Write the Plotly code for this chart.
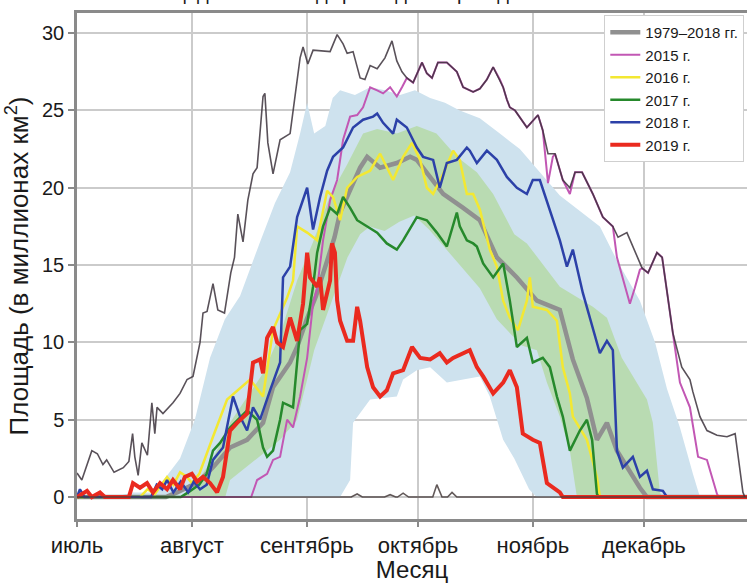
import pandas as pd
import plotly.graph_objects as go

# Season axis: days counted from 1 July
season_start = pd.Timestamp("2019-07-01")
season_end_day = 180.8
month_start_days = [0, 31, 62, 92, 123, 153]
month_labels = ["июль", "август", "сентябрь", "октябрь", "ноябрь", "декабрь"]
area_ticks = [0, 5, 10, 15, 20, 25, 30]

# 1979–2018 envelope: daily maximum and minimum
days_max = [0, 1.3, 4, 5.5, 7, 8, 10, 12.5, 14, 15, 15.6, 16.5, 17.5, 19, 20.2, 21, 21.6, 23.2, 25.9, 27.8,
            29.7, 31.3, 33.2, 34, 35.1, 36.7, 38, 39.8, 41.5, 42.5, 43.4, 44.8, 46.1, 47.5, 48.6, 50.2, 50.7,
            51.5, 52.9, 54.8, 57.5, 58.3, 60.2, 61, 62.3, 63.7, 68.3, 70.2, 71.8, 72.9, 74.5, 76.4, 77.7,
            79.1, 81, 83.1, 85, 86.3, 87.7, 89, 90.7, 93.1, 94.4, 95.8, 97.4, 99.8, 102.5, 104.2, 106.9,
            108.7, 110.6, 112.3, 114.1, 115, 116, 116.8, 118.2, 121.4, 124.4, 125.7, 127.1, 129, 131.1, 133,
            134.4, 136.3, 139.2, 141.9, 144.6, 146, 148.4, 152.5, 154.1, 156.5, 157.9, 160.8, 163.2, 165.4,
            166.2, 168.1, 170, 172.7, 175.4, 177.6, 179.7, 180.2]
area_max = [1.55, 1.1, 3.0, 2.8, 2.1, 2.4, 1.6, 1.9, 2.3, 4.1, 2.6, 1.4, 3.5, 2.7, 6.1, 4.1, 5.8, 5.4, 6.1, 6.7,
            7.6, 7.8, 10.0, 11.9, 12.0, 13.8, 12.1, 11.9, 14.5, 15.5, 18.3, 16.5, 19.2, 20.9, 21.3, 25.9, 26.1,
            22.9, 20.9, 23.1, 23.5, 25.0, 28.4, 29.1, 28.0, 28.9, 28.8, 29.9, 29.3, 28.7, 28.8, 27.1, 27.0,
            27.9, 27.7, 28.4, 29.5, 28.2, 27.5, 27.1, 26.8, 28.1, 27.4, 27.1, 28.1, 28.1, 27.5, 26.5, 26.2,
            26.4, 27.0, 27.8, 27.0, 26.5, 25.7, 25.2, 25.0, 23.9, 24.7, 23.7, 22.2, 22.2, 20.5, 20.0,
            21.0, 21.0, 19.6, 18.1, 17.5, 16.8, 17.1, 14.8, 14.5, 15.8, 15.5, 10.6, 8.4, 7.6,
            6.8, 5.2, 4.3, 4.0, 3.9, 4.1, 0.3, 0]

days_min = [0, 74, 75.6, 77, 83, 84.5, 86, 86.5, 88, 89.5, 96, 97.1, 98.5, 100, 101.2, 102.5, 180.8]
area_min = [0, 0, 0.2, 0, 0, 0.15, 0, 0, 0.25, 0, 0, 0.8, 0, 0, 0.3, 0, 0]

# 1979–2018 mean
days_mean = [0, 24, 27, 33, 37, 41.3, 45.9, 50.2, 52.9, 57.5, 59.4, 62, 64.5, 67, 69.5, 71, 73, 76.4, 78.3, 81.8,
             86.3, 89.9, 91.7, 95.3, 98.8, 104.2, 108.7, 113.3, 118.7, 124.1, 128.4, 130.3, 133.8, 137.6, 140.3,
             143, 145.7, 150, 151.9, 153.8, 180.8]
area_mean = [0, 0, 0.3, 1.0, 2.0, 3.2, 3.7, 4.8, 7.1, 8.7, 9.7, 11.5, 13.0, 15.0, 16.8, 18.4, 19.5, 21.3, 22.0, 21.3,
             21.6, 22.0, 21.8, 20.7, 19.6, 18.7, 17.9, 15.5, 14.2, 12.7, 12.3, 12.1, 8.9, 6.4, 3.7,
             4.8, 3.0, 1.3, 0.6, 0, 0]

# Outer (light blue) and inner (green) spread of 1979–2018
outer_up_days = [0, 10, 15, 20.2, 23.7, 27.8, 31.8, 35.9, 39.9, 44, 49.4, 53.4, 57.5, 60.2, 62.1, 64, 67, 69, 71, 75,
                 79.1, 83.1, 87.2, 91.2, 95.3, 99.3, 103.3, 108.7, 114.1, 119.5, 124.9, 130.3, 135.7, 141.1, 145.7,
                 151.9, 156, 159.2, 162.7, 166.2, 168.1, 180.8]
outer_up = [0, 0, 0.3, 0.3, 1.2, 2.5, 5.0, 9.0, 11.5, 13.0, 16.5, 19.0, 21.0, 23.5, 25.5, 23.5, 24.0, 25.8, 26.3, 26.0,
            26.5, 26.3, 26.0, 26.3, 25.8, 25.5, 25.0, 24.5, 23.5, 22.5, 21.0, 19.5, 18.5, 17.5, 15.3,
            12.7, 10.0, 7.0, 4.5, 1.5, 0, 0]
outer_lo_days = [0, 71, 73.7, 74.5, 79.1, 86.3, 88, 91.7, 95.3, 99.8, 104.2, 108.7, 111.4, 115, 118, 122, 124, 180.8]
outer_lo = [0, 0, 1.1, 4.8, 6.3, 6.5, 7.6, 8.2, 8.4, 7.4, 7.6, 7.8, 6.5, 3.7, 2.5, 0.5, 0, 0]

inner_up_days = [0, 28, 31, 36.7, 41.3, 46, 50.2, 54.8, 59.4, 63.7, 68.3, 72.9, 77.2, 81, 86.3, 91.7, 97, 102.5,
                 107.9, 112.3, 118, 121.4, 130.3, 139.2, 143, 147, 153.8, 155.4, 157.3, 158, 180.8]
inner_up = [0, 0, 0.5, 2.5, 4.8, 6.5, 8.0, 10.5, 14.0, 16.5, 19.5, 21.5, 23.5, 23.8, 23.5, 24.0, 23.5, 22.0,
            21.0, 19.6, 17.0, 16.4, 13.6, 12.3, 11.6, 9.0, 6.3, 4.8, 0.3, 0, 0]
inner_lo_days = [0, 40, 41.3, 50.2, 54.8, 59.4, 62.1, 64, 67, 70, 73, 76.4, 79, 83, 87, 91, 95, 99, 103.3, 108.7,
                 113.3, 116.8, 120, 124.1, 126.8, 130.3, 133, 134.9, 180.8]
inner_lo = [0, 0, 1.1, 2.8, 3.7, 5.0, 7.6, 9.5, 11.5, 13.5, 15.5, 17.0, 17.5, 17.2, 17.8, 18.2, 17.3, 16.2, 15.0, 13.5,
            11.5, 10.6, 9.8, 9.5, 7.4, 5.2, 3.0, 0, 0]

# Individual years
days_2015 = [0, 47, 48.6, 51.3, 52.9, 54.8, 56.7, 58.3, 60.2, 62.1, 63.7, 64.8, 66.4, 68.3, 70.2, 71.8, 73.7, 75.6,
             77.2, 79.1, 81, 82.6, 84.5, 86.3, 87.7, 89, 90.7, 93.1, 94.4, 95.8, 97.4, 99.8, 102.5, 104.2, 106.9,
             108.7, 110.6, 112.3, 114.1, 115, 116, 116.8, 118.2, 121.4, 124.4, 125.7, 127.1, 128.4, 129, 131.1,
             133, 134.4, 136.3, 139.2, 141.9, 144.6, 145.7, 148, 149.2, 150.5, 151.9, 152.5, 154.1, 156.5, 157.9,
             160.8, 162.7, 165.4, 167.6, 170, 172.7, 173.2, 180.8]
area_2015 = [0, 0, 1.1, 1.5, 2.4, 2.6, 5.0, 4.5, 6.5, 9.0, 12.5, 13.5, 16.6, 19.2, 20.5, 23.1, 24.6, 24.7,
             25.2, 26.5, 26.3, 26.1, 26.5, 25.9, 26.5, 27.1, 26.8, 28.1, 27.4, 27.1, 28.1, 28.1, 27.5, 26.5, 26.2,
             26.4, 27.0, 27.8, 27.0, 26.5, 25.7, 25.2, 25.0, 23.9, 24.7, 23.7, 20.3, 22.0, 22.2, 20.5,
             19.6, 21.0, 21.0, 19.6, 18.1, 17.5, 15.5, 13.5, 12.5, 13.5, 14.7, 14.8, 14.5, 15.8, 15.5,
             10.6, 7.4, 5.8, 2.6, 2.4, 0.2, 0, 0]

days_2016 = [0, 17, 19, 21, 24.3, 26, 27.8, 29.7, 31, 33, 36.7, 40.5, 46.7, 50.2, 52.9, 56.7, 58.3, 59.4, 62.1, 64.8,
             67.5, 69.1, 71, 72.9, 75.6, 79.1, 81.8, 83.6, 85.3, 88, 90.4, 92.6, 94.4, 96.1, 98.8, 101.5, 103.3,
             105.2, 106.9, 108.7, 111.4, 113.3, 115, 116.8, 119, 121.4, 122.2, 123, 126.8, 129.5, 131.1, 133,
             133.8, 137.6, 140.3, 141.1, 180.8]
area_2016 = [0, 0, 0.5, 0.2, 1.3, 0.8, 1.6, 1.3, 0.9, 1.5, 3.9, 6.3, 7.6, 6.5, 10.8, 12.9, 14.0, 17.5, 17.1, 16.6,
             19.8, 19.4, 17.9, 20.0, 20.7, 21.1, 22.2, 21.3, 20.5, 22.0, 22.9, 21.8, 20.0, 19.6, 20.9, 22.4, 21.8,
             19.6, 19.6, 18.6, 16.0, 14.9, 12.7, 11.6, 10.8, 12.7, 14.2, 12.3, 12.1, 11.4, 8.4, 6.7,
             5.2, 3.7, 1.3, 0, 0]

days_2017 = [0, 28, 30, 33, 35, 36.7, 38.6, 41.3, 45.9, 48.6, 50.2, 51.3, 52.9, 54.8, 55.6, 58.3, 59.4, 60.2, 62.1,
             63.7, 64.8, 66.4, 68.3, 70.2, 71.8, 73.7, 75.6, 78.3, 81, 83.6, 86.3, 88, 91.7, 94.4, 97.1, 99.8,
             102.5, 103.3, 105.2, 106.9, 107.9, 109.6, 112.3, 115, 116.8, 118.7, 121.4, 123, 125.7, 127.6,
             129.5, 131.1, 133, 135.7, 137.6, 139, 140.3, 140.8, 180.8]
area_2017 = [0, 0, 0.3, 0.8, 1.5, 3.0, 3.5, 4.5, 5.6, 5.0, 3.2, 2.6, 3.0, 5.0, 6.1, 5.8, 8.7, 10.8, 11.2,
             13.6, 15.8, 17.5, 18.7, 18.3, 19.4, 18.7, 17.9, 17.5, 17.1, 16.4, 16.0, 16.6, 18.1, 17.9, 17.1, 16.2,
             18.4, 17.5, 16.6, 16.4, 16.2, 15.1, 14.2, 15.1, 12.7, 9.7, 10.3, 8.7, 9.0, 8.4,
             6.5, 5.2, 3.0, 4.3, 5.0, 3.7, 0.2, 0, 0]

days_2018 = [0, 0.8, 2, 20, 21.5, 23, 24.3, 26, 28, 30, 31.5, 33.2, 35, 36.7, 39.4, 42.1, 44, 45.9, 47.5, 49.4,
             52.1, 54.8, 55.6, 57.5, 59.4, 62.1, 63.7, 65.6, 67.5, 69.1, 71.8, 74.5, 77.2, 79.9, 81, 82.6, 85.3,
             86.3, 89, 91.7, 93.4, 96.1, 97.9, 99.8, 102.5, 105.2, 106, 107.9, 110.6, 113.3, 116, 118.7, 121.4,
             123, 124.9, 127.6, 130.3, 132.2, 133.8, 136.5, 139.2, 141.1, 143, 144.6, 145.7, 147.3, 150, 151.9,
             153.8, 155.4, 158.1, 159.2, 180.8]
area_2018 = [0, 0.5, 0, 0, 0.8, 0.5, 1.1, 0.3, 1.0, 0.3, 1.0, 0.5, 0.8, 2.4, 3.2, 6.5, 5.2, 4.3, 5.8, 5.0,
             6.9, 8.7, 14.2, 14.9, 18.1, 20.0, 17.3, 19.4, 21.1, 22.0, 22.6, 23.9, 24.4, 24.6, 24.8, 24.2, 23.5,
             24.4, 23.9, 22.6, 22.0, 21.8, 20.0, 21.6, 21.8, 22.6, 22.4, 21.6, 22.4, 21.8, 20.7, 20.0, 19.6,
             20.5, 20.5, 18.6, 16.6, 14.9, 16.0, 13.2, 11.0, 9.3, 10.1, 9.5, 3.0, 1.9, 2.6, 1.3,
             1.7, 0.5, 0.4, 0, 0]

days_2019 = [0, 2.7, 4, 6.2, 7.5, 14, 15.1, 17, 18.9, 20.5, 22.4, 24.3, 25.9, 27.8, 29.1, 31, 32.4, 34, 35.9, 37.8,
             39.4, 41.3, 43.2, 45.9, 47.5, 49.4, 50.2, 51.3, 52.9, 54, 55.6, 57.5, 59.4, 61, 62.1, 62.9, 64.8,
             65.6, 66.4, 67.5, 68.3, 68.8, 69.6, 70.2, 71, 72.9, 74.5, 75.6, 76.4, 78.3, 79.9, 81.8, 83.6, 85.3,
             88, 90.4, 92.6, 95.3, 97.9, 99.8, 101.5, 106, 107.9, 109.6, 112.3, 115, 116.8, 118.7, 120.3, 123,
             124.9, 126.8, 128.4, 130.3, 131.1, 180.8]
area_2019 = [0, 0.4, 0, 0.3, 0, 0, 0.9, 0.6, 0.9, 0.3, 0.9, 0.5, 1.1, 0.5, 1.3, 1.5, 1.0, 1.3, 0.9, 0.3,
             1.3, 4.3, 4.8, 5.4, 8.7, 8.9, 8.0, 10.3, 11.0, 10.0, 9.7, 11.6, 10.1, 12.5, 15.8, 14.2, 13.6,
             14.2, 12.1, 13.2, 14.0, 16.4, 15.8, 12.7, 11.4, 10.1, 10.1, 12.3, 11.4, 8.4, 7.1, 6.5, 6.9, 8.0,
             8.2, 9.7, 9.0, 8.9, 9.3, 8.7, 9.0, 9.5, 8.4, 7.8, 6.7, 7.4, 8.2, 7.1, 4.1, 3.7,
             3.5, 0.9, 0.6, 0.3, 0, 0]


def to_dates(days):
    return season_start + pd.to_timedelta(pd.Series(days, dtype=float), unit="D")


def band_polygon(up_days, up, lo_days, lo):
    xs = list(to_dates(up_days)) + list(to_dates(lo_days[::-1]))
    ys = list(up) + list(lo[::-1])
    return xs, ys


fig = go.Figure()

bx, by = band_polygon(outer_up_days, outer_up, outer_lo_days, outer_lo)
fig.add_trace(go.Scatter(x=bx, y=by, fill="toself", fillcolor="#cee2ee", mode="none",
                         showlegend=False, hoverinfo="skip"))
gx, gy = band_polygon(inner_up_days, inner_up, inner_lo_days, inner_lo)
fig.add_trace(go.Scatter(x=gx, y=gy, fill="toself", fillcolor="#b9dbb2", mode="none",
                         showlegend=False, hoverinfo="skip"))

fig.add_trace(go.Scatter(x=to_dates(days_mean), y=area_mean, mode="lines", name="1979–2018 гг.",
                         line=dict(color="#909090", width=4.5)))
fig.add_trace(go.Scatter(x=to_dates(days_2015), y=area_2015, mode="lines", name="2015 г.",
                         line=dict(color="#c257b4", width=2)))
fig.add_trace(go.Scatter(x=to_dates(days_2016), y=area_2016, mode="lines", name="2016 г.",
                         line=dict(color="#f3e832", width=2.5)))
fig.add_trace(go.Scatter(x=to_dates(days_2017), y=area_2017, mode="lines", name="2017 г.",
                         line=dict(color="#26892c", width=2.5)))
fig.add_trace(go.Scatter(x=to_dates(days_2018), y=area_2018, mode="lines", name="2018 г.",
                         line=dict(color="#2c41a8", width=2.5)))
fig.add_trace(go.Scatter(x=to_dates(days_2019), y=area_2019, mode="lines", name="2019 г.",
                         line=dict(color="#ea2a1f", width=4)))

fig.add_trace(go.Scatter(x=to_dates(days_max), y=area_max, mode="lines", showlegend=False,
                         line=dict(color="rgba(60,50,60,0.85)", width=1.6)))
fig.add_trace(go.Scatter(x=to_dates(days_min), y=area_min, mode="lines", showlegend=False,
                         line=dict(color="rgba(70,60,60,0.85)", width=1.6)))

tick_dates = list(to_dates(month_start_days))
axis_grey = "#8a8a8a"
grid_grey = "#cbcbcb"

fig.update_layout(
    template="none",
    width=747, height=583,
    margin=dict(l=77, r=0, t=13, b=64),
    plot_bgcolor="white", paper_bgcolor="white",
    font=dict(family="Liberation Sans, Arial, sans-serif", color="#1a1a1a", size=20),
    legend=dict(x=0.787, y=0.996, xanchor="left", yanchor="top", bgcolor="white",
                bordercolor="#cfcfcf", borderwidth=1,
                font=dict(family="Liberation Sans Narrow, Liberation Sans, sans-serif", size=15)),
    xaxis=dict(type="date", range=[season_start, season_start + pd.Timedelta(days=season_end_day)],
               tickvals=tick_dates, ticktext=month_labels, showgrid=True, gridcolor=grid_grey, gridwidth=1.5,
               showline=True, linecolor=axis_grey, linewidth=2.5, mirror=True,
               ticks="outside", ticklen=5, tickcolor=axis_grey, tickwidth=1.5,
               tickfont=dict(size=22), zeroline=False, automargin=False,
               title=dict(text="Месяц", font=dict(size=24), standoff=6)),
    yaxis=dict(range=[-1.42, 31.3], tickvals=area_ticks, showgrid=True, gridcolor=grid_grey, gridwidth=1.5,
               showline=True, linecolor=axis_grey, linewidth=2.5,
               ticks="outside", ticklen=6, tickcolor=axis_grey, tickwidth=1.5,
               tickfont=dict(size=20), zeroline=False, automargin=False,
               title=dict(text="Площадь (в миллионах км<sup>2</sup>)", font=dict(size=26), standoff=6)),
    annotations=[dict(text="Площадь озоновой дыры над Антарктидой", xref="paper", yref="paper",
                      x=0.38, y=1, yshift=7, xanchor="center", yanchor="bottom", showarrow=False,
                      font=dict(size=20))],
)

fig.write_html("out.html")
